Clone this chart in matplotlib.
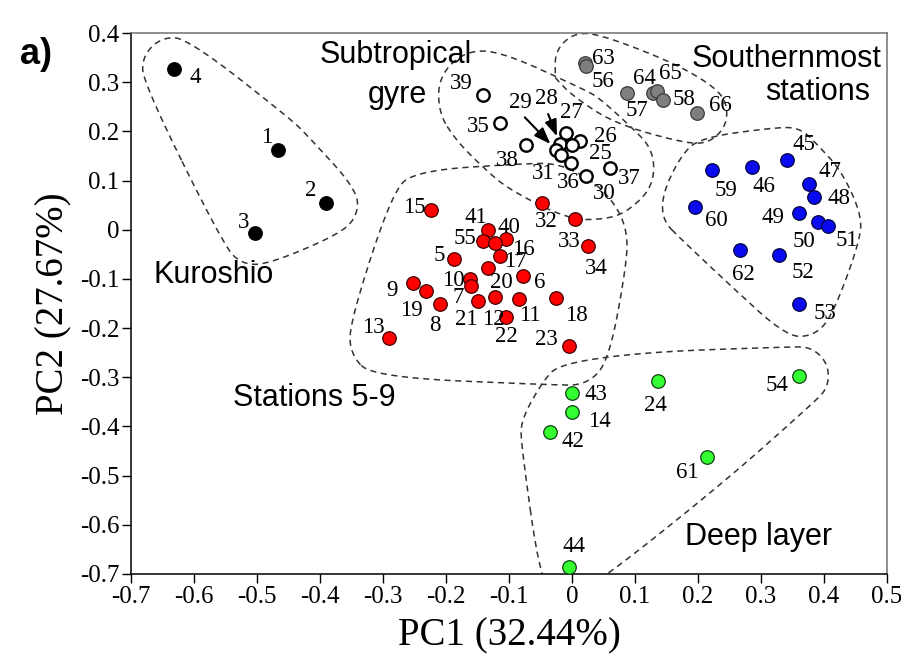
import numpy as np
import matplotlib
matplotlib.use('Agg')
import matplotlib.pyplot as plt
from matplotlib.ticker import FuncFormatter

plt.rcParams['font.family'] = ['Liberation Serif', 'DejaVu Serif']

# --- data (PC1, PC2 scores of stations) ---
kuro_id = ['4', '1', '2', '3']
kuro_pc1 = [-0.632, -0.467, -0.390, -0.503]
kuro_pc2 = [0.327, 0.162, 0.054, -0.007]

red_id = ['15', '41', '40', '55', '16', '17', '5', '20', '6', '10', '9', '7',
          '19', '8', '21', '12', '11', '22', '18', '23', '13', '32', '33', '34']
red_pc1 = [-0.224, -0.133, -0.105, -0.142, -0.123, -0.114, -0.188, -0.134,
           -0.078, -0.162, -0.253, -0.161, -0.232, -0.210, -0.150, -0.123,
           -0.084, -0.104, -0.026, -0.004, -0.290, -0.048, 0.005, 0.025]
red_pc2 = [0.040, -0.001, -0.019, -0.022, -0.028, -0.053, -0.060, -0.077,
           -0.094, -0.101, -0.108, -0.114, -0.125, -0.152, -0.144, -0.136,
           -0.140, -0.177, -0.138, -0.236, -0.220, 0.055, 0.022, -0.033]

open_id = ['39', '35', '38', '27', '28', '26', '25', '29', '31', '36', '30', '37']
open_pc1 = [-0.142, -0.114, -0.073, -0.010, -0.019, 0.013, 0.000, -0.025,
            -0.018, -0.002, 0.023, 0.060]
open_pc2 = [0.274, 0.218, 0.172, 0.196, 0.174, 0.180, 0.172, 0.162,
            0.151, 0.135, 0.110, 0.126]

gray_id = ['63', '56', '57', '64', '65', '58', '66']
gray_pc1 = [0.021, 0.022, 0.087, 0.129, 0.135, 0.144, 0.198]
gray_pc2 = [0.338, 0.332, 0.277, 0.279, 0.282, 0.264, 0.237]

blue_id = ['45', '59', '46', '47', '48', '60', '49', '50', '51', '62', '52', '53']
blue_pc1 = [0.341, 0.223, 0.285, 0.376, 0.384, 0.195, 0.361, 0.391, 0.407,
            0.267, 0.329, 0.361]
blue_pc2 = [0.142, 0.121, 0.128, 0.093, 0.066, 0.046, 0.035, 0.016, 0.008,
            -0.041, -0.051, -0.151]

green_id = ['43', '14', '42', '24', '54', '61', '44']
green_pc1 = [0.000, 0.000, -0.035, 0.137, 0.361, 0.215, -0.005]
green_pc2 = [-0.331, -0.370, -0.411, -0.307, -0.297, -0.463, -0.686]

xticks = np.round(np.arange(-0.7, 0.51, 0.1), 1)
yticks = np.round(np.arange(-0.7, 0.41, 0.1), 1)

# label offsets in pixels (right, down)
off = {
    '4': (21, 7), '1': (-11, -15), '2': (-16, -15), '3': (-12, -13),
    '15': (-17, -5), '41': (-12, -15), '40': (3, -14), '55': (-18, -4),
    '16': (29, 4), '17': (15, 4), '5': (-14, -6), '20': (14, 13),
    '6': (17, 5), '10': (-17, -1), '9': (-21, 6), '7': (-12, 10),
    '19': (-14, 17), '8': (-5, 19), '21': (-11, 17), '12': (-1, 21),
    '11': (11, 15), '22': (0, 18), '18': (21, 16), '23': (-23, -8),
    '13': (-16, -12), '32': (4, 17), '33': (-6, 21), '34': (9, 21),
    '39': (-21, -13), '35': (-22, 2), '38': (-19, 13), '27': (6, -23),
    '26': (25, -7), '25': (28, 6), '31': (-17, 16), '36': (-2, 17),
    '30': (18, 16), '37': (19, 9),
    '63': (18, -7), '56': (17, 13), '57': (10, 15), '64': (-9, -16),
    '65': (13, -20), '58': (21, -2), '66': (24, -10),
    '45': (17, -17), '59': (14, 18), '46': (12, 18), '47': (21, -14),
    '48': (25, -1), '60': (22, 11), '49': (-26, 3), '50': (-14, 18),
    '51': (18, 13), '62': (3, 23), '52': (24, 16), '53': (26, 8),
    '43': (24, 0), '14': (27, 8), '42': (23, 8), '24': (-3, 23),
    '54': (-22, 8), '61': (-20, 13), '44': (5, -23),
}
arrow_off = {'29': (-36, -48), '28': (-14, -46)}


def hull(p):
    p = sorted(map(tuple, p))
    def half(seq):
        h = []
        for q in seq:
            while len(h) >= 2 and ((h[-1][0]-h[-2][0])*(q[1]-h[-2][1]) -
                                   (h[-1][1]-h[-2][1])*(q[0]-h[-2][0])) <= 0:
                h.pop()
            h.append(q)
        return h
    lo = half(p)
    up = half(p[::-1])
    return np.array(lo[:-1] + up[:-1])


def chaikin(h, n=5):
    for _ in range(n):
        nxt = np.roll(h, -1, axis=0)
        q = 0.75*h + 0.25*nxt
        r = 0.25*h + 0.75*nxt
        h = np.empty((2*len(h), 2))
        h[0::2] = q
        h[1::2] = r
    return h


def outline(ax, xs, ys, r):
    # smooth dashed envelope round a group, padded by r pixels
    T = ax.transData
    pts = T.transform(np.column_stack([xs, ys]))
    a = np.linspace(0, 2*np.pi, 8, endpoint=False) + np.pi/8
    circ = np.column_stack([np.cos(a), np.sin(a)]) * r * 1.25
    cloud = (pts[:, None, :] + circ[None, :, :]).reshape(-1, 2)
    h = chaikin(hull(cloud))
    h = np.vstack([h, h[:1]])
    d = T.inverted().transform(h)
    ax.plot(d[:, 0], d[:, 1], color='#333333', lw=1.1,
            ls=(0, (4, 3)), zorder=2)


fig = plt.figure(figsize=(9.01, 6.68), dpi=100)
ax = fig.add_axes([131/901, 1-574/668, 756/901, 541/668])
ax.set_xlim(-0.7, 0.5)
ax.set_ylim(-0.7, 0.4)

groups = [
    (kuro_id, kuro_pc1, kuro_pc2, 'black', 'black', 27),
    (red_id, red_pc1, red_pc2, '#ff0000', '#400000', 34),
    (open_id, open_pc1, open_pc2, 'white', 'black', 38),
    (gray_id, gray_pc1, gray_pc2, '#7f7f7f', '#3a3a3a', 26),
    (blue_id, blue_pc1, blue_pc2, '#0a0af0', '#000040', 28),
    (green_id, green_pc1, green_pc2, '#33ff33', '#104010', 25),
]

for ids, xs, ys, fc, ec, r in groups:
    outline(ax, xs, ys, r)
    lw = 1.7 if fc == 'white' else 0.9
    s = 80 if fc == 'white' else 95
    ax.scatter(xs, ys, s=s, c=fc, edgecolors=ec, linewidths=lw, zorder=4)
    for name, x, y in zip(ids, xs, ys):
        if name in arrow_off:
            dx, dy = arrow_off[name]
            ax.annotate(name, (x, y), xytext=(dx, -dy), textcoords='offset pixels',
                        ha='center', va='center', fontsize=16.5, zorder=5,
                        arrowprops=dict(arrowstyle='-|>,head_length=0.6,head_width=0.22',
                                        color='black', lw=1.5, relpos=(0.5, 0),
                                        shrinkA=2, shrinkB=6))
        else:
            dx, dy = off[name]
            ax.annotate(name, (x, y), xytext=(dx, -dy - 2), textcoords='offset pixels',
                        ha='center', va='center', fontsize=16.5, zorder=5)

sans = dict(family='Liberation Sans', fontsize=22, transform=ax.transAxes,
            ha='left', va='baseline')
ax.text(0.250, 0.944, 'Subtropical', **sans)
ax.text(0.3135, 0.871, 'gyre', **sans)
ax.text(0.742, 0.937, 'Southernmost', **sans)
ax.text(0.8386, 0.876, 'stations', **sans)
ax.text(0.0304, 0.5379, 'Kuroshio', **sans)
ax.text(0.1349, 0.3105, 'Stations 5-9', **sans)
ax.text(0.7328, 0.0536, 'Deep layer', **sans)

fig.text(20/901, 1-64/668, 'a)', family='Liberation Sans', fontsize=26,
         fontweight='bold', ha='left', va='baseline')

fmt = FuncFormatter(lambda v, p: '0' if abs(v) < 1e-9 else f'{v:.1f}')
ax.set_xticks(xticks)
ax.set_yticks(yticks)
ax.xaxis.set_major_formatter(fmt)
ax.yaxis.set_major_formatter(fmt)
ax.tick_params(direction='out', length=6.5, width=1, labelsize=18, pad=2)

for sp in ['top', 'right']:
    ax.spines[sp].set_color('#707070')
for sp in ax.spines.values():
    sp.set_linewidth(1.1)

ax.set_xlabel('PC1 (32.44%)', fontsize=28)
ax.set_ylabel('PC2 (27.67%)', fontsize=28)
ax.xaxis.set_label_coords(0.5, -0.0795)
ax.yaxis.set_label_coords(-0.078, 0.5)

fig.savefig('out.png', dpi=100)
